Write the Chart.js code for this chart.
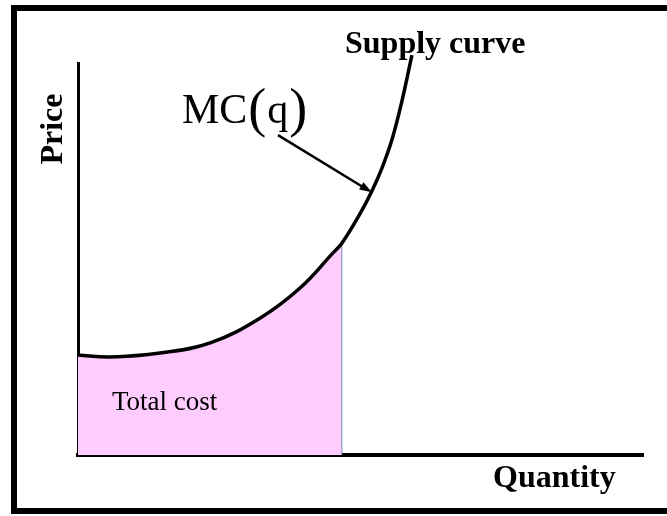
<!DOCTYPE html>
<html>
<head>
<meta charset="utf-8">
<script src="https://cdn.jsdelivr.net/npm/chart.js@4/dist/chart.umd.min.js"></script>
<style>
  html, body { margin: 0; padding: 0; background: #fff; overflow: hidden; }
  #wrap { position: relative; width: 667px; height: 516px; }
  #frame {
    position: absolute; left: 11px; top: 5px; width: 700px; height: 497px;
    border: 6px solid #000; border-right: none; pointer-events: none;
  }
</style>
</head>
<body>
<div id="wrap">
  <canvas id="supplyChart" width="667" height="516"></canvas>
  <div id="frame"></div>
</div>
<script>
// Marginal cost curve (quantity 0-100, price 0-100)
const curveQ     = [0, 5.7, 14.5, 23.4, 32.2, 39.3, 45.1, 46.7, 49.9, 52.0, 53.8, 55.6, 57.3, 59.1];
const curvePrice = [25.5, 25.0, 26.0, 28.6, 34.9, 42.6, 51.5, 54.0, 61.5, 67.3, 73.2, 80.6, 90.1, 102.0];

// Quantity where the total cost area stops
const outputQ = 46.7;

// Arrow from the MC(q) label to the curve
const arrowFrom = { x: 35.4, y: 81.6 };
const arrowTo   = { x: 52.0, y: 67.0 };

const curvePoints = curveQ.map((q, i) => ({ x: q, y: curvePrice[i] }));
const areaPoints = curvePoints.filter(p => p.x <= outputQ);

const serif = '"Liberation Serif", "DejaVu Serif", serif';

// labels and arrow drawn on top
const labelsPlugin = {
    id: 'labels',
    afterDatasetsDraw(chart) {
        const ctx = chart.ctx;
        const xs = chart.scales.x, ys = chart.scales.y;
        const area = chart.chartArea;
        ctx.save();
        ctx.fillStyle = '#000';
        ctx.textBaseline = 'alphabetic';

        // arrow
        const x1 = xs.getPixelForValue(arrowFrom.x), y1 = ys.getPixelForValue(arrowFrom.y);
        const x2 = xs.getPixelForValue(arrowTo.x), y2 = ys.getPixelForValue(arrowTo.y);
        const ang = Math.atan2(y2 - y1, x2 - x1);
        const head = 13;
        ctx.strokeStyle = '#000';
        ctx.lineWidth = 2.5;
        ctx.beginPath();
        ctx.moveTo(x1, y1);
        ctx.lineTo(x2 - Math.cos(ang) * head * 0.8, y2 - Math.sin(ang) * head * 0.8);
        ctx.stroke();
        ctx.beginPath();
        ctx.moveTo(x2, y2);
        ctx.lineTo(x2 - head * Math.cos(ang - 0.33), y2 - head * Math.sin(ang - 0.33));
        ctx.lineTo(x2 - head * Math.cos(ang + 0.33), y2 - head * Math.sin(ang + 0.33));
        ctx.closePath();
        ctx.fill();

        // MC(q) with taller parentheses
        let x = 182;
        const base = 123;
        const parts = [['MC', 42], ['(', 54], ['q', 42], [')', 54]];
        parts.forEach(([t, size]) => {
            ctx.font = size + 'px ' + serif;
            ctx.fillText(t, x, base + (size > 42 ? 3 : 0));
            x += ctx.measureText(t).width + 1;
        });

        ctx.font = 'bold 32px ' + serif;
        ctx.fillText('Supply curve', 345, 53);
        ctx.fillText('Quantity', 493, 487);

        ctx.font = '27px ' + serif;
        ctx.fillText('Total cost', 112, 410);

        ctx.save();
        ctx.translate(area.left - 16, 129);
        ctx.rotate(-Math.PI / 2);
        ctx.font = 'bold 32px ' + serif;
        ctx.textAlign = 'center';
        ctx.fillText('Price', 0, 0);
        ctx.restore();

        ctx.restore();
    }
};

new Chart(document.getElementById('supplyChart').getContext('2d'), {
    type: 'scatter',
    data: {
        datasets: [
            {
                label: 'MC(q)',
                data: curvePoints,
                showLine: true,
                borderColor: '#000',
                borderWidth: 3.5,
                pointRadius: 0,
                tension: 0.4,
                fill: false,
                clip: false,
                order: 0
            },
            {
                label: 'Total cost',
                data: areaPoints,
                showLine: true,
                borderWidth: 0,
                borderColor: 'rgba(0,0,0,0)',
                backgroundColor: '#ffccff',
                pointRadius: 0,
                tension: 0.4,
                fill: 'origin',
                order: 2
            },
            {
                label: 'edge',
                data: [{ x: outputQ, y: 0 }, { x: outputQ, y: areaPoints[areaPoints.length - 1].y }],
                showLine: true,
                borderColor: '#6f8fb8',
                borderWidth: 1,
                pointRadius: 0,
                order: 1
            }
        ]
    },
    options: {
        responsive: false,
        animation: false,
        events: [],
        layout: { padding: { left: 78, right: 24, top: 63, bottom: 61 } },
        plugins: {
            legend: { display: false },
            tooltip: { enabled: false }
        },
        scales: {
            x: {
                type: 'linear', min: 0, max: 100,
                ticks: { display: false },
                grid: { display: false, drawTicks: false },
                border: { display: true, color: '#000', width: 4 }
            },
            y: {
                type: 'linear', min: 0, max: 100,
                ticks: { display: false },
                grid: { display: false, drawTicks: false },
                border: { display: true, color: '#000', width: 3 }
            }
        }
    },
    plugins: [labelsPlugin]
});
</script>
</body>
</html>
